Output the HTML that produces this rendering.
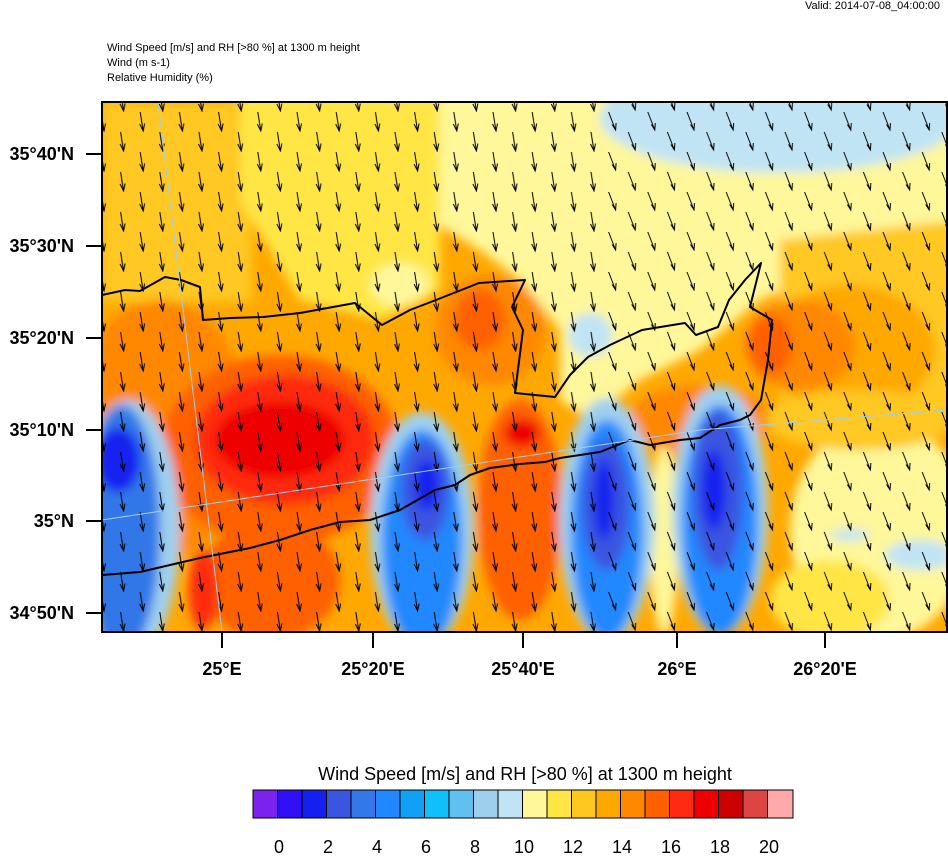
<!DOCTYPE html>
<html><head><meta charset="utf-8"><style>
body{margin:0;background:#fff;width:948px;height:854px;overflow:hidden;font-family:"Liberation Sans",sans-serif}
</style></head><body>
<svg width="948" height="854" xmlns="http://www.w3.org/2000/svg" font-family="Liberation Sans, sans-serif">
<defs>
<clipPath id="c"><rect x="102" y="102" width="845" height="530"/></clipPath>
<clipPath id="cl"><rect x="102" y="102" width="500" height="530"/></clipPath>
<clipPath id="cr"><rect x="602" y="102" width="345" height="530"/></clipPath>
<pattern id="arr" x="91" y="112" width="39.2" height="40" patternUnits="userSpaceOnUse">
<g stroke="#000" stroke-width="1" fill="none">
<path d="M10 0 L13 19 M9.5 12 L13 19 L14.5 11.5"/>
<path d="M29.6 20 L32.6 39 M29.1 32 L32.6 39 L34.1 31.5"/>
</g>
</pattern>
<pattern id="arr2" x="91" y="112" width="39.2" height="40" patternUnits="userSpaceOnUse">
<g stroke="#000" stroke-width="1" fill="none">
<path d="M8 0 L15 18 M11.5 12.5 L15 18 L15.5 11"/>
<path d="M27.6 20 L34.6 38 M31.1 32.5 L34.6 38 L35.1 31"/>
</g>
</pattern>
<filter id="b"><feGaussianBlur stdDeviation="5"/></filter>
</defs>
<text x="940" y="9" font-size="11" text-anchor="end">Valid: 2014-07-08_04:00:00</text>
<text x="107" y="51" font-size="11">Wind Speed [m/s] and RH [&gt;80 %] at 1300 m height</text>
<text x="107" y="66" font-size="11">Wind   (m s-1)</text>
<text x="107" y="81" font-size="11">Relative Humidity   (%)</text>
<g clip-path="url(#c)">
<rect x="102" y="102" width="845" height="530" fill="#FFA800"/>
<g filter="url(#b)">
<rect x="102" y="102" width="150" height="200" fill="#FFC820"/>
<path d="M240 95 L440 95 L440 290 L380 320 L300 300 L270 250 L240 200 Z" fill="#FFE645"/>
<path d="M420 95 L960 95 L960 250 L880 250 L760 300 L700 350 L640 380 L590 420 L560 400 L560 330 L520 280 L480 250 L430 220 Z" fill="#FFF79A"/>
<path d="M420 95 L440 95 L440 220 L430 225Z" fill="#FFE645"/>
<ellipse cx="780" cy="118" rx="180" ry="55" fill="#C0E4F4"/>
<ellipse cx="400" cy="285" rx="30" ry="22" fill="#FFF79A"/>
<ellipse cx="590" cy="335" rx="22" ry="22" fill="#C0E4F4"/>
<path d="M780 240 L960 220 L960 420 L780 420 Z" fill="#FFC820"/>
<ellipse cx="850" cy="350" rx="85" ry="65" fill="#FFA800"/>
<ellipse cx="800" cy="345" rx="55" ry="45" fill="#FF8800"/>
<ellipse cx="770" cy="345" rx="22" ry="30" fill="#FF6000"/>
<ellipse cx="490" cy="330" rx="55" ry="55" fill="#FF8800"/>
<ellipse cx="480" cy="320" rx="25" ry="30" fill="#FF6000"/>
<ellipse cx="700" cy="420" rx="70" ry="35" fill="#FF8800"/>
<ellipse cx="880" cy="530" rx="90" ry="110" fill="#FFF79A"/>
<ellipse cx="860" cy="420" rx="95" ry="30" fill="#FFC820"/>
<ellipse cx="830" cy="600" rx="60" ry="40" fill="#FFE645"/>
<ellipse cx="920" cy="555" rx="35" ry="15" fill="#C0E4F4"/>
<ellipse cx="850" cy="535" rx="20" ry="6" fill="#C0E4F4"/>
<ellipse cx="664" cy="540" rx="14" ry="95" fill="#FFF79A"/>
<ellipse cx="160" cy="430" rx="90" ry="130" fill="#FF8800"/>
<ellipse cx="280" cy="450" rx="120" ry="95" fill="#FF6000"/>
<ellipse cx="285" cy="440" rx="90" ry="65" fill="#FF2A10"/>
<ellipse cx="280" cy="440" rx="65" ry="38" fill="#EE0000"/>
<ellipse cx="270" cy="580" rx="70" ry="60" fill="#FF6000"/>
<ellipse cx="203" cy="590" rx="14" ry="40" fill="#FF2A10"/>
<ellipse cx="520" cy="510" rx="42" ry="110" fill="#FF6000"/>
<ellipse cx="522" cy="433" rx="18" ry="14" fill="#EE0000"/>
<ellipse cx="128" cy="530" rx="52" ry="130" fill="#9ED0EE"/>
<ellipse cx="122" cy="530" rx="38" ry="125" fill="#3377E8"/>
<ellipse cx="118" cy="460" rx="22" ry="32" fill="#1420F0"/>
<ellipse cx="422" cy="530" rx="52" ry="118" fill="#9ED0EE"/>
<ellipse cx="422" cy="540" rx="40" ry="110" fill="#2288FF"/>
<ellipse cx="425" cy="490" rx="24" ry="50" fill="#3A55E0"/>
<ellipse cx="427" cy="485" rx="12" ry="25" fill="#1420F0"/>
<ellipse cx="607" cy="520" rx="48" ry="122" fill="#9ED0EE"/>
<ellipse cx="607" cy="530" rx="36" ry="110" fill="#2288FF"/>
<ellipse cx="606" cy="505" rx="24" ry="65" fill="#3A55E0"/>
<ellipse cx="604" cy="500" rx="10" ry="40" fill="#1420F0"/>
<ellipse cx="720" cy="510" rx="48" ry="125" fill="#9ED0EE"/>
<ellipse cx="720" cy="520" rx="38" ry="115" fill="#2288FF"/>
<ellipse cx="718" cy="490" rx="25" ry="80" fill="#3A55E0"/>
<ellipse cx="714" cy="490" rx="12" ry="40" fill="#1420F0"/>
</g>
<rect x="102" y="102" width="500" height="530" fill="url(#arr)" clip-path="url(#cl)"/>
<rect x="602" y="102" width="345" height="530" fill="url(#arr2)" clip-path="url(#cr)"/>
<path d="M102 295 L125 290 L140 291 L165 277 L181 280 L200 287 L203 320 L230 318 L263 317 L300 313 L355 303 L382 325 L410 310 L436 300 L479 283 L525 280 L512 307 L523 330 L515 393 L555 397 L570 375 L588 357 L610 345 L642 330 L685 323 L696 335 L718 327 L729 300 L745 280 L761 263 L750 307 L772 320 L768 360 L761 400 L750 415 L740 420 L720 425 L700 438 L680 440 L650 445 L630 440 L600 452 L560 458 L545 462 L520 464 L490 468 L470 475 L455 485 L435 490 L400 510 L370 520 L340 522 L310 530 L280 540 L250 548 L200 558 L170 565 L140 572 L102 575" stroke="#000" stroke-width="2" fill="none" stroke-linejoin="round"/>
<path d="M102 520 L300 490 L500 460 L700 430 L947 410" stroke="#9ED0EE" stroke-width="1" fill="none"/>
<path d="M158 102 L222 632" stroke="#9ED0EE" stroke-width="1" fill="none"/>
</g>
<rect x="102" y="102" width="845" height="530" fill="none" stroke="#000" stroke-width="2"/>
<g stroke="#000" stroke-width="2">
<path d="M86 154H102M86 246H102M86 338H102M86 430H102M86 521H102M86 613H102"/>
<path d="M222 632V648M373 632V648M523 632V648M677 632V648M825 632V648"/>
</g>
<g font-size="18" text-anchor="end" font-weight="bold">
<text x="74" y="160">35°40'N</text><text x="74" y="252">35°30'N</text><text x="74" y="344">35°20'N</text>
<text x="74" y="436">35°10'N</text><text x="74" y="527">35°N</text><text x="74" y="619">34°50'N</text>
</g>
<g font-size="18" text-anchor="middle" font-weight="bold">
<text x="222" y="675">25°E</text><text x="373" y="675">25°20'E</text><text x="523" y="675">25°40'E</text><text x="677" y="675">26°E</text><text x="825" y="675">26°20'E</text>
</g>
<text x="525" y="780" font-size="18" text-anchor="middle">Wind Speed [m/s] and RH [&gt;80 %] at 1300 m height</text>
<g stroke="#000" stroke-width="1">
<rect x="253.0" y="790" width="24.5" height="28" fill="#7B22EE"/><rect x="277.5" y="790" width="24.5" height="28" fill="#3010F5"/><rect x="302.0" y="790" width="24.5" height="28" fill="#1420F0"/><rect x="326.5" y="790" width="24.5" height="28" fill="#3A55E0"/><rect x="351.0" y="790" width="24.5" height="28" fill="#3377E8"/><rect x="375.5" y="790" width="24.5" height="28" fill="#2288FF"/><rect x="400.0" y="790" width="24.5" height="28" fill="#10A0F5"/><rect x="424.5" y="790" width="24.5" height="28" fill="#10C0FA"/><rect x="449.0" y="790" width="24.5" height="28" fill="#60C0F0"/><rect x="473.5" y="790" width="24.5" height="28" fill="#9ED0EE"/><rect x="498.0" y="790" width="24.5" height="28" fill="#C0E4F4"/><rect x="522.5" y="790" width="24.5" height="28" fill="#FFF79A"/><rect x="547.0" y="790" width="24.5" height="28" fill="#FFE645"/><rect x="571.5" y="790" width="24.5" height="28" fill="#FFC820"/><rect x="596.0" y="790" width="24.5" height="28" fill="#FFA800"/><rect x="620.5" y="790" width="24.5" height="28" fill="#FF8800"/><rect x="645.0" y="790" width="24.5" height="28" fill="#FF6000"/><rect x="669.5" y="790" width="24.5" height="28" fill="#FF2A10"/><rect x="694.0" y="790" width="24.5" height="28" fill="#EE0000"/><rect x="718.5" y="790" width="24.5" height="28" fill="#CC0000"/><rect x="743.0" y="790" width="24.5" height="28" fill="#DD4444"/><rect x="767.5" y="790" width="25.5" height="28" fill="#FFAAAA"/>
</g>
<g font-size="18" text-anchor="middle">
<text x="279" y="853">0</text><text x="328" y="853">2</text><text x="377" y="853">4</text><text x="426" y="853">6</text><text x="475" y="853">8</text><text x="524" y="853">10</text><text x="573" y="853">12</text><text x="622" y="853">14</text><text x="671" y="853">16</text><text x="720" y="853">18</text><text x="769" y="853">20</text>
</g>
</svg>
</body></html>
